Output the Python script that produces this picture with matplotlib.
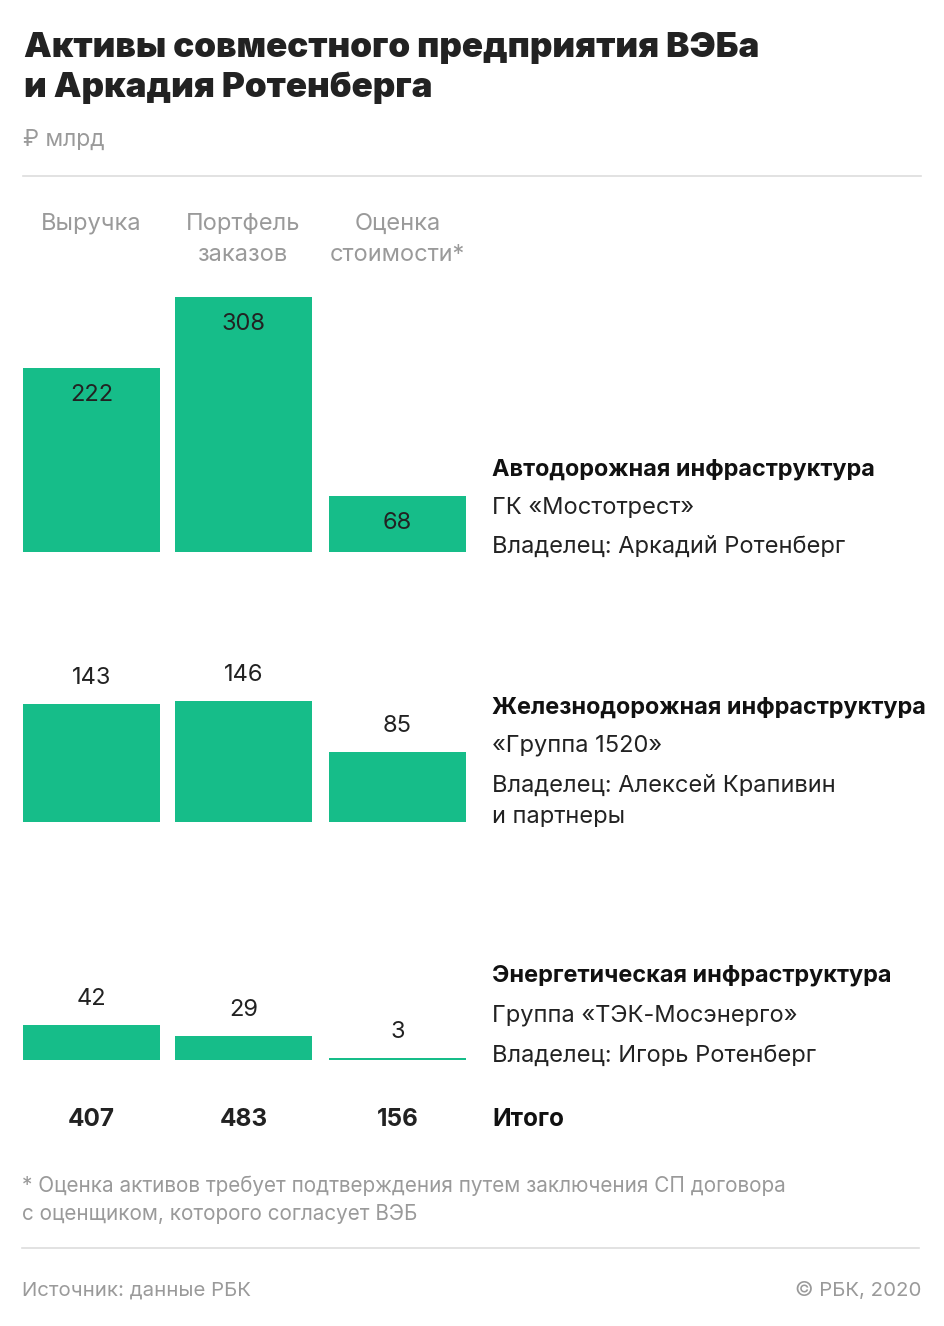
import matplotlib
matplotlib.use("Agg")
import matplotlib.pyplot as plt
from matplotlib.lines import Line2D

# ---------------- data ----------------
categories = ["Выручка", "Портфель\nзаказов", "Оценка\nстоимости*"]
sectors = ["Автодорожная инфраструктура",
           "Железнодорожная инфраструктура",
           "Энергетическая инфраструктура"]
companies = ["ГК «Мостотрест»", "«Группа 1520»", "Группа «ТЭК-Мосэнерго»"]
owners = ["Владелец: Аркадий Ротенберг",
          "Владелец: Алексей Крапивин\nи партнеры",
          "Владелец: Игорь Ротенберг"]
road_values = [222, 308, 68]
rail_values = [143, 146, 85]
energy_values = [42, 29, 3]
totals = [407, 483, 156]
total_label = "Итого"
title = "Активы совместного предприятия ВЭБа\nи Аркадия Ротенберга"
unit_label = "₽ млрд"
footnote = ("* Оценка активов требует подтверждения путем заключения СП договора\n"
            "с оценщиком, которого согласует ВЭБ")
source = "Источник: данные РБК"
copyright_text = "© РБК, 2020"

# ---------------- style ----------------
W, H = 945, 1326
GREEN = "#16BD89"
DARK = "#222222"
GRAY = "#9a9a9a"
FONT = ["Inter", "DejaVu Sans"]
plt.rcParams["font.family"] = FONT

fig = plt.figure(figsize=(W / 100, H / 100), dpi=100)
fig.patch.set_facecolor("white")


def fx(px):
    return px / W


def fy(py):
    return 1 - py / H


# title
fig.text(fx(24), fy(57), title.split("\n")[0], fontsize=25.2, fontweight="black",
         color=DARK, va="baseline", ha="left")
fig.text(fx(24), fy(97), title.split("\n")[1], fontsize=25.2, fontweight="black",
         color=DARK, va="baseline", ha="left")
fig.text(fx(23), fy(146), unit_label, fontsize=16.5, color=GRAY, va="baseline", ha="left")

# separators
fig.add_artist(Line2D([fx(23), fx(921)], [fy(176), fy(176)], color="#dddddd", lw=1.2))
fig.add_artist(Line2D([fx(22), fx(919)], [fy(1248), fy(1248)], color="#dddddd", lw=1.2))

# bar axes geometry (pixel coordinates along x)
PX_PER_UNIT = 0.828
centers = [91.5, 243.5, 397.5]
bar_w = 137
AX_H = 300

# column headers
for cx, cat in zip(centers, categories):
    for i, line in enumerate(cat.split("\n")):
        fig.text(fx(cx), fy(230 + 31 * i), line, fontsize=17, color=GRAY,
                 ha="center", va="baseline")

groups = [
    (road_values, 552, "inside", [475, 514, 553]),
    (rail_values, 822, "above", [713, 752, 792]),
    (energy_values, 1060, "above", [982, 1022, 1062]),
]

for gi, (vals, base, mode, text_y) in enumerate(groups):
    ax = fig.add_axes([0, fy(base), 1, AX_H / H])
    ax.set_xlim(0, W)
    ax.set_ylim(0, AX_H / PX_PER_UNIT)
    ax.axis("off")
    ax.bar(centers, vals, width=bar_w, color=GREEN, align="center")
    for x, v in zip(centers, vals):
        if mode == "inside":
            ax.annotate(str(v), (x, v), xytext=(0, -33), textcoords="offset pixels",
                        ha="center", va="baseline", fontsize=17, color=DARK)
        else:
            ax.annotate(str(v), (x, v), xytext=(0, 20), textcoords="offset pixels",
                        ha="center", va="baseline", fontsize=17, color=DARK)
    # right side labels
    fig.text(fx(492), fy(text_y[0]), sectors[gi], fontsize=16.9, fontweight="bold",
             color="#111111", ha="left", va="baseline")
    fig.text(fx(492), fy(text_y[1]), companies[gi], fontsize=17,
             color=DARK, ha="left", va="baseline")
    for li, line in enumerate(owners[gi].split("\n")):
        fig.text(fx(492), fy(text_y[2] + 31 * li), line, fontsize=17,
                 color=DARK, ha="left", va="baseline")

# totals
for cx, t in zip(centers, totals):
    fig.text(fx(cx), fy(1126), str(t), fontsize=17.5, fontweight="bold",
             color=DARK, ha="center", va="baseline")
fig.text(fx(492), fy(1126), total_label, fontsize=17.5, fontweight="bold",
         color="#111111", ha="left", va="baseline")

# footnote & footer
for i, line in enumerate(footnote.split("\n")):
    fig.text(fx(22), fy(1192 + 27.5 * i), line, fontsize=14.9, color=GRAY,
             ha="left", va="baseline")
fig.text(fx(22), fy(1296), source, fontsize=14.7, color=GRAY, ha="left", va="baseline")
fig.text(fx(921), fy(1296), copyright_text, fontsize=14.7, color=GRAY, ha="right", va="baseline")

fig.savefig("out.png", dpi=100, facecolor="white")
